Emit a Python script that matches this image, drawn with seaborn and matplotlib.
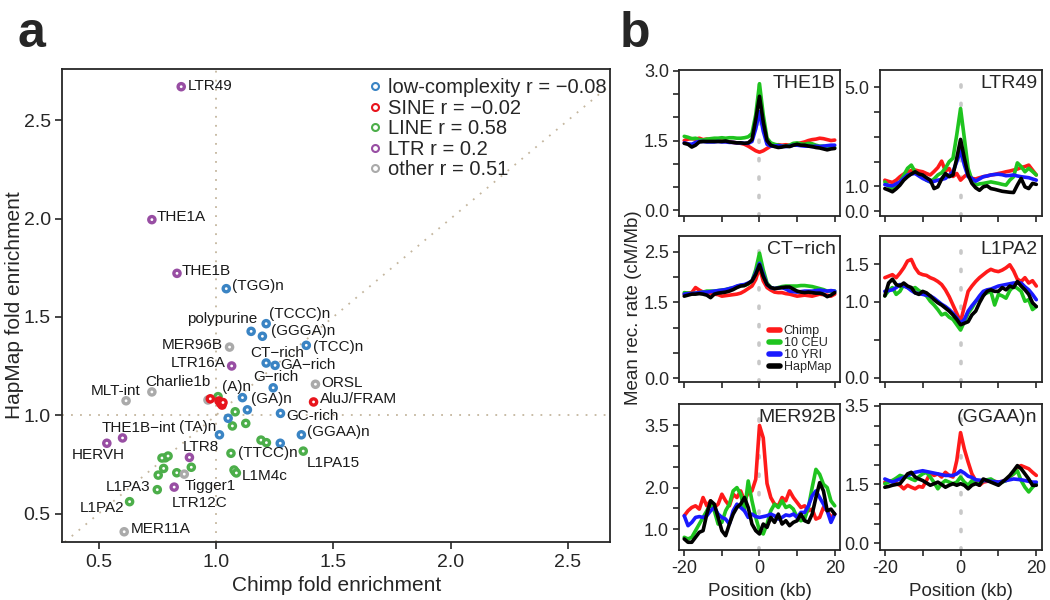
import numpy as np
import pandas as pd
import seaborn as sns
import matplotlib.pyplot as plt
from matplotlib.lines import Line2D

sns.set_style("ticks")
plt.rcParams["font.family"] = ["Liberation Sans", "DejaVu Sans"]
plt.rcParams["axes.unicode_minus"] = False

# ========== PANEL A DATA ==========
class_names = ["low-complexity", "SINE", "LINE", "LTR", "other"]
class_r = ["\u22120.08", "\u22120.02", "0.58", "0.2", "0.51"]
class_colors = ["#3a84c4", "#e8141c", "#4cae4a", "#984ea3", "#aaaaaa"]

line_x = [1.009, 1.082, 1.070, 1.127, 1.192, 1.215, 1.372, 1.064, 0.784, 0.770,
          0.796, 0.777, 0.754, 0.833, 0.895, 1.082, 1.077, 1.087, 0.750, 0.632]
line_y = [1.095, 1.018, 0.946, 0.959, 0.874, 0.861, 0.818, 0.807, 0.784, 0.783,
          0.793, 0.730, 0.696, 0.708, 0.736, 0.713, 0.722, 0.707, 0.622, 0.561]
lowc_x = [1.044, 1.214, 1.150, 1.198, 1.385, 1.214, 1.252, 1.244, 1.113, 1.134,
          1.275, 1.052, 1.015, 1.364, 1.274]
lowc_y = [1.644, 1.466, 1.427, 1.402, 1.356, 1.266, 1.254, 1.140, 1.090, 1.028,
          1.010, 0.985, 0.901, 0.901, 0.858]
ltr_x = [0.852, 0.727, 0.834, 1.067, 0.602, 0.535, 0.887, 0.822]
ltr_y = [2.671, 1.995, 1.722, 1.251, 0.885, 0.858, 0.786, 0.635]
other_x = [1.058, 1.424, 0.727, 0.617, 0.966, 0.865, 0.609]
other_y = [1.347, 1.158, 1.119, 1.074, 1.078, 0.701, 0.408]
sine_x = [0.976, 1.013, 1.020, 1.026, 1.030, 1.416]
sine_y = [1.084, 1.073, 1.061, 1.052, 1.065, 1.068]

label_text = ["LTR49", "THE1A", "THE1B", "(TGG)n", "polypurine", "(TCCC)n",
              "(GGGA)n", "MER96B", "(TCC)n", "CT\u2212rich", "LTR16A", "GA\u2212rich",
              "G\u2212rich", "ORSL", "Charlie1b", "MLT-int", "(A)n", "(GA)n",
              "AluJ/FRAM", "GC-rich", "THE1B\u2212int", "(TA)n", "(GGAA)n", "HERVH",
              "LTR8", "(TTCC)n", "L1PA15", "L1M4c", "L1PA3", "Tigger1", "LTR12C",
              "L1PA2", "MER11A"]
label_x = [0.879, 0.749, 0.852, 1.069, 1.175, 1.228, 1.233, 1.027, 1.413, 1.147,
           1.040, 1.275, 1.160, 1.449, 0.700, 0.467, 1.027, 1.150, 1.443, 1.299,
           0.514, 0.841, 1.388, 0.384, 0.860, 1.092, 1.385, 1.108, 0.529, 0.868,
           0.812, 0.419, 0.635]
label_y = [2.675, 2.007, 1.734, 1.658, 1.488, 1.514, 1.427, 1.356, 1.346, 1.318,
           1.268, 1.256, 1.196, 1.163, 1.171, 1.124, 1.145, 1.081, 1.081, 0.996,
           0.937, 0.942, 0.914, 0.798, 0.837, 0.810, 0.759, 0.691, 0.637, 0.640,
           0.555, 0.527, 0.420]
label_right = ["polypurine", "MER96B", "LTR16A"]

# ========== PANEL B DATA ==========
position_kb = np.arange(-20, 21)
sources = ["Chimp", "10 CEU", "10 YRI", "HapMap"]
source_colors = ["#ff1a1a", "#1fc41f", "#1a1aff", "#000000"]
panel_names = ["THE1B", "LTR49", "CT\u2212rich", "L1PA2", "MER92B", "(GGAA)n"]

the1b_chimp = [1.50, 1.53, 1.54, 1.53, 1.55, 1.52, 1.53, 1.51, 1.50, 1.50, 1.49, 1.48, 1.47, 1.46,
               1.45, 1.44, 1.42, 1.38, 1.33, 1.28, 1.25, 1.28, 1.33, 1.38, 1.40, 1.41, 1.40, 1.41,
               1.40, 1.42, 1.43, 1.45, 1.47, 1.50, 1.52, 1.53, 1.55, 1.54, 1.52, 1.50, 1.51]
the1b_ceu = [1.59, 1.57, 1.54, 1.55, 1.52, 1.51, 1.53, 1.54, 1.55, 1.55, 1.56, 1.55, 1.56, 1.56,
             1.55, 1.55, 1.56, 1.58, 1.65, 2.05, 2.72, 2.05, 1.55, 1.45, 1.42, 1.40, 1.38, 1.38,
             1.40, 1.44, 1.45, 1.43, 1.42, 1.44, 1.43, 1.40, 1.38, 1.38, 1.36, 1.36, 1.35]
the1b_yri = [1.45, 1.43, 1.42, 1.46, 1.48, 1.48, 1.47, 1.47, 1.47, 1.48, 1.47, 1.47, 1.46, 1.46,
             1.45, 1.45, 1.44, 1.44, 1.48, 1.75, 2.12, 1.70, 1.42, 1.38, 1.38, 1.39, 1.38, 1.37,
             1.38, 1.40, 1.40, 1.39, 1.38, 1.38, 1.37, 1.38, 1.37, 1.38, 1.39, 1.40, 1.40]
the1b_hapmap = [1.44, 1.42, 1.36, 1.40, 1.47, 1.48, 1.48, 1.48, 1.48, 1.48, 1.48, 1.49, 1.47, 1.46,
                1.45, 1.45, 1.44, 1.45, 1.52, 1.95, 2.45, 1.90, 1.50, 1.40, 1.37, 1.35, 1.36, 1.38,
                1.37, 1.40, 1.42, 1.40, 1.40, 1.38, 1.37, 1.35, 1.34, 1.32, 1.30, 1.32, 1.33]

ltr49_chimp = [1.25, 1.20, 1.16, 1.25, 1.39, 1.50, 1.59, 1.64, 1.66, 1.62, 1.59, 1.52, 1.46, 1.60,
               1.76, 2.02, 1.62, 1.72, 1.40, 1.52, 1.25, 1.40, 1.52, 1.32, 1.30, 1.35, 1.39, 1.42,
               1.46, 1.48, 1.52, 1.55, 1.59, 1.62, 1.66, 1.70, 1.76, 1.80, 1.86, 1.66, 1.46]
ltr49_ceu = [1.18, 1.00, 0.91, 1.00, 1.18, 1.45, 1.73, 1.86, 1.59, 1.45, 1.39, 1.25, 1.18, 1.30,
             1.46, 1.55, 1.73, 2.00, 2.14, 3.09, 4.15, 2.95, 1.73, 1.25, 1.05, 1.10, 1.12, 1.15,
             1.18, 1.15, 1.12, 1.08, 1.05, 1.25, 1.39, 1.95, 1.80, 1.59, 1.73, 1.60, 1.46]
ltr49_yri = [1.07, 1.04, 1.02, 1.10, 1.18, 1.32, 1.46, 1.50, 1.52, 1.42, 1.32, 1.25, 1.18, 1.20,
             1.25, 1.28, 1.32, 1.45, 1.59, 2.00, 2.44, 1.86, 1.39, 1.32, 1.21, 1.30, 1.39, 1.42,
             1.46, 1.48, 1.49, 1.47, 1.43, 1.44, 1.46, 1.42, 1.39, 1.37, 1.35, 1.30, 1.25]
ltr49_hapmap = [0.91, 0.85, 0.78, 0.90, 1.05, 1.25, 1.39, 1.50, 1.59, 1.50, 1.46, 1.35, 1.25, 0.91,
                0.98, 1.30, 1.52, 1.39, 1.46, 2.14, 2.90, 2.14, 1.46, 1.12, 0.94, 0.84, 0.98, 1.02,
                0.91, 0.88, 0.84, 0.80, 0.78, 0.76, 0.75, 1.05, 1.32, 0.98, 0.91, 1.12, 1.08]

ctrich_chimp = [1.66, 1.68, 1.69, 1.79, 1.74, 1.70, 1.69, 1.68, 1.66, 1.65, 1.62, 1.63, 1.64, 1.65,
                1.66, 1.68, 1.72, 1.77, 1.82, 1.95, 2.18, 1.92, 1.79, 1.74, 1.70, 1.69, 1.69, 1.67,
                1.66, 1.64, 1.62, 1.63, 1.64, 1.63, 1.62, 1.64, 1.66, 1.65, 1.64, 1.62, 1.66]
ctrich_ceu = [1.69, 1.68, 1.67, 1.68, 1.69, 1.70, 1.72, 1.72, 1.72, 1.73, 1.74, 1.75, 1.77, 1.78,
              1.81, 1.83, 1.83, 1.86, 1.92, 2.14, 2.47, 2.14, 1.88, 1.79, 1.77, 1.79, 1.81, 1.82,
              1.82, 1.82, 1.82, 1.83, 1.83, 1.82, 1.81, 1.79, 1.77, 1.75, 1.72, 1.72, 1.72]
ctrich_yri = [1.66, 1.67, 1.67, 1.68, 1.69, 1.70, 1.70, 1.71, 1.72, 1.73, 1.74, 1.75, 1.77, 1.79,
              1.82, 1.84, 1.85, 1.88, 1.92, 2.08, 2.27, 2.05, 1.85, 1.79, 1.77, 1.78, 1.79, 1.76,
              1.72, 1.71, 1.70, 1.71, 1.72, 1.72, 1.72, 1.73, 1.74, 1.73, 1.72, 1.73, 1.72]
ctrich_hapmap = [1.62, 1.64, 1.66, 1.66, 1.67, 1.66, 1.64, 1.59, 1.66, 1.68, 1.69, 1.70, 1.72, 1.75,
                 1.79, 1.82, 1.83, 1.87, 1.92, 2.05, 2.24, 2.01, 1.85, 1.79, 1.77, 1.78, 1.79, 1.80,
                 1.80, 1.76, 1.72, 1.70, 1.69, 1.70, 1.69, 1.68, 1.68, 1.66, 1.61, 1.64, 1.69]

l1pa2_chimp = [1.32, 1.34, 1.36, 1.32, 1.38, 1.45, 1.54, 1.56, 1.45, 1.38, 1.36, 1.35, 1.32, 1.30,
               1.27, 1.23, 1.16, 1.07, 0.96, 0.85, 0.74, 0.94, 1.14, 1.21, 1.27, 1.32, 1.36, 1.40,
               1.43, 1.41, 1.40, 1.42, 1.45, 1.49, 1.41, 1.30, 1.27, 1.32, 1.25, 1.28, 1.21]
l1pa2_ceu = [1.08, 1.15, 1.19, 1.10, 1.14, 1.23, 1.19, 1.17, 1.19, 1.15, 1.12, 1.08, 1.01, 0.96,
             0.90, 0.83, 0.85, 0.80, 0.77, 0.70, 0.63, 0.74, 0.85, 0.92, 1.01, 1.05, 1.10, 1.12,
             1.14, 0.96, 1.10, 1.08, 1.05, 1.15, 1.21, 1.18, 1.14, 1.01, 1.03, 0.90, 0.94]
l1pa2_yri = [1.14, 1.15, 1.16, 1.19, 1.23, 1.21, 1.19, 1.15, 1.12, 1.11, 1.10, 1.09, 1.08, 1.05,
             1.01, 0.97, 0.94, 0.90, 0.85, 0.79, 0.72, 0.77, 0.88, 0.95, 1.01, 1.08, 1.14, 1.16,
             1.17, 1.19, 1.21, 1.22, 1.23, 1.24, 1.25, 1.25, 1.25, 1.20, 1.16, 1.10, 1.03]
l1pa2_hapmap = [1.08, 1.25, 1.30, 1.23, 1.21, 1.25, 1.21, 1.19, 1.12, 1.10, 1.14, 1.12, 1.08, 1.03,
                0.99, 0.96, 0.92, 0.88, 0.83, 0.77, 0.70, 0.72, 0.74, 0.83, 0.88, 0.99, 1.08, 1.14,
                1.16, 1.14, 1.14, 1.19, 1.16, 1.21, 1.19, 1.27, 1.21, 1.16, 1.10, 0.99, 0.94]

mer92b_chimp = [1.32, 1.44, 1.52, 1.56, 1.48, 1.76, 1.56, 1.68, 1.52, 1.60, 1.84, 1.68, 1.56, 1.84,
                1.76, 1.92, 1.68, 1.88, 1.92, 2.20, 3.50, 3.20, 2.10, 1.76, 1.60, 1.56, 1.76, 1.68,
                1.92, 1.76, 1.64, 1.52, 1.56, 1.44, 1.48, 1.24, 1.28, 1.52, 1.44, 1.28, 1.36]
mer92b_ceu = [0.80, 0.76, 0.80, 0.96, 1.12, 1.28, 1.44, 1.60, 1.44, 1.12, 1.16, 1.44, 1.60, 1.92,
              2.00, 1.84, 1.44, 2.16, 1.68, 1.28, 0.96, 0.88, 1.12, 1.44, 1.60, 1.52, 1.68, 1.52,
              1.56, 1.48, 1.28, 1.20, 1.24, 1.52, 2.00, 2.44, 2.32, 2.08, 2.00, 1.68, 1.56]
mer92b_yri = [1.32, 1.08, 1.16, 1.28, 1.30, 1.28, 1.32, 1.44, 1.52, 1.36, 1.28, 1.24, 1.12, 1.44,
              1.60, 1.52, 1.44, 1.28, 1.36, 1.30, 1.28, 1.30, 1.32, 1.36, 1.32, 1.24, 1.28, 1.34,
              1.32, 1.36, 1.28, 1.40, 1.40, 1.56, 1.80, 1.92, 1.76, 1.60, 1.44, 1.16, 1.36]
mer92b_hapmap = [0.76, 0.68, 0.68, 0.80, 0.92, 0.96, 1.36, 1.68, 1.60, 1.28, 0.96, 0.84, 1.12, 1.36,
                 1.52, 1.60, 1.76, 1.52, 1.12, 0.96, 0.88, 1.12, 1.04, 1.28, 1.16, 1.36, 1.12, 1.20,
                 1.08, 1.16, 1.20, 1.36, 1.20, 1.16, 1.36, 1.76, 2.12, 1.92, 1.44, 1.48, 1.36]

ggaa_chimp = [1.56, 1.58, 1.60, 1.52, 1.48, 1.39, 1.48, 1.43, 1.39, 1.45, 1.43, 1.60, 1.79, 1.73,
              1.77, 1.69, 1.81, 1.73, 1.69, 2.11, 2.82, 2.40, 2.07, 1.77, 1.60, 1.48, 1.56, 1.58,
              1.60, 1.58, 1.56, 1.58, 1.60, 1.70, 1.77, 1.94, 1.98, 1.94, 1.90, 1.81, 1.73]
ggaa_ceu = [1.52, 1.56, 1.60, 1.66, 1.73, 1.70, 1.69, 1.64, 1.60, 1.70, 1.77, 1.81, 1.69, 1.55,
            1.39, 1.52, 1.60, 1.56, 1.52, 1.56, 1.69, 1.56, 1.48, 1.60, 1.52, 1.52, 1.60, 1.62,
            1.64, 1.58, 1.52, 1.56, 1.60, 1.70, 1.77, 1.85, 1.60, 1.43, 1.31, 1.43, 1.52]
ggaa_yri = [1.64, 1.60, 1.56, 1.60, 1.64, 1.68, 1.73, 1.77, 1.81, 1.83, 1.85, 1.83, 1.81, 1.79,
            1.77, 1.75, 1.73, 1.73, 1.73, 1.77, 1.85, 1.79, 1.71, 1.68, 1.62, 1.61, 1.60, 1.60,
            1.58, 1.57, 1.56, 1.58, 1.60, 1.62, 1.64, 1.63, 1.62, 1.60, 1.58, 1.56, 1.56]
ggaa_hapmap = [1.43, 1.45, 1.48, 1.50, 1.52, 1.64, 1.77, 1.81, 1.69, 1.64, 1.60, 1.54, 1.48, 1.52,
               1.56, 1.50, 1.43, 1.48, 1.52, 1.48, 1.52, 1.48, 1.39, 1.48, 1.52, 1.48, 1.64, 1.60,
               1.56, 1.52, 1.48, 1.56, 1.64, 1.73, 1.85, 1.98, 1.90, 1.77, 1.64, 1.48, 1.48]

panel_series = [
    [the1b_chimp, the1b_ceu, the1b_yri, the1b_hapmap],
    [ltr49_chimp, ltr49_ceu, ltr49_yri, ltr49_hapmap],
    [ctrich_chimp, ctrich_ceu, ctrich_yri, ctrich_hapmap],
    [l1pa2_chimp, l1pa2_ceu, l1pa2_yri, l1pa2_hapmap],
    [mer92b_chimp, mer92b_ceu, mer92b_yri, mer92b_hapmap],
    [ggaa_chimp, ggaa_ceu, ggaa_yri, ggaa_hapmap],
]

# axis setup per small panel: ylim, tick range/step, labelled ticks
panel_axes = [
    ((-0.12, 3.01), (0.0, 3.0, 0.5), [0.0, 1.5, 3.0]),
    ((-0.20, 5.70), (0.0, 5.0, 1.0), [0.0, 1.0, 5.0]),
    ((-0.07, 2.81), (0.0, 2.5, 0.5), [0.0, 1.5, 2.5]),
    ((-0.05, 1.87), (0.0, 1.5, 0.5), [0.0, 1.0, 1.5]),
    ((0.50, 4.02), (1.0, 3.5, 0.5), [1.0, 2.0, 3.5]),
    ((-0.16, 3.55), (0.0, 3.5, 0.5), [0.0, 1.5, 3.5]),
]

fig = plt.figure(figsize=(10.5, 6), dpi=100)

# ========== PANEL A ==========
ax = fig.add_axes([0.0595, 0.0967, 0.5214, 0.7883])
order = ["LINE", "low-complexity", "LTR", "other", "SINE"]
xs = [line_x, lowc_x, ltr_x, other_x, sine_x]
ys = [line_y, lowc_y, ltr_y, other_y, sine_y]
df_a = pd.concat([pd.DataFrame({"chimp": x, "hapmap": y, "cls": c})
                  for c, x, y in zip(order, xs, ys)], ignore_index=True)

ref = dict(color="#c4b69e", lw=1.3, ls=(0, (1, 4)), zorder=0)
ax.axhline(1, **ref)
ax.axvline(1, **ref)
ax.axline((1, 1), slope=1, **ref)

sns.scatterplot(data=df_a, x="chimp", y="hapmap", hue="cls", hue_order=class_names,
                palette=class_colors, s=20, linewidth=2.4, legend=False, ax=ax, zorder=3)
pts = ax.collections[-1]
pts.set_edgecolors(pts.get_facecolors())
pts.set_facecolors("white")

for t, x, y in zip(label_text, label_x, label_y):
    ax.text(x, y, t, ha="right" if t in label_right else "left", va="center",
            fontsize=11, color="#1a1a1a")

ax.set_xlim(0.346, 2.679)
ax.set_ylim(0.356, 2.761)
ax.set_xticks([0.5, 1.0, 1.5, 2.0, 2.5])
ax.set_yticks([0.5, 1.0, 1.5, 2.0, 2.5])
ax.tick_params(labelsize=14, length=5, width=1.2)
ax.set_xlabel("Chimp fold enrichment", fontsize=15)
ax.set_ylabel("HapMap fold enrichment", fontsize=15, labelpad=0)
for sp in ax.spines.values():
    sp.set_linewidth(1.3)

handles = [Line2D([], [], ls="", marker="o", ms=5, mfc="white", mec=c, mew=1.5)
           for c in class_colors]
ax.legend(handles, [f"{n} r = {r}" for n, r in zip(class_names, class_r)],
          loc="upper right", frameon=False, fontsize=14.5, handlelength=0.5,
          handletextpad=0.4, labelspacing=0.08, borderaxespad=0.0,
          bbox_to_anchor=(1.008, 0.998))

fig.text(0.017, 0.922, "a", fontsize=36, fontweight="bold")
fig.text(0.590, 0.922, "b", fontsize=36, fontweight="bold")

# ========== PANEL B ==========
col_left = [0.647, 0.838]
col_width = [0.153, 0.154]
row_bottom = [0.640, 0.3638, 0.0838]
row_height = 0.243

for i, (name, series, (ylim, tstep, tlab)) in enumerate(zip(panel_names, panel_series, panel_axes)):
    r, c = divmod(i, 2)
    axb = fig.add_axes([col_left[c], row_bottom[r], col_width[c], row_height])
    df_b = pd.concat([pd.DataFrame({"pos": position_kb, "rate": s, "src": src})
                      for src, s in zip(sources, series)], ignore_index=True)
    axb.axvline(0, color="#c8c8c8", lw=2.6, ls=(0, (0.6, 4.5)), zorder=0,
                dash_capstyle="round")
    sns.lineplot(data=df_b, x="pos", y="rate", hue="src", hue_order=sources,
                 palette=source_colors, lw=2.6, legend=False, ax=axb)
    axb.set_xlim(-21.3, 21.4)
    axb.set_ylim(*ylim)
    ticks = np.arange(tstep[0], tstep[1] + 0.01, tstep[2])
    axb.set_yticks(ticks)
    axb.set_yticklabels([f"{t:.1f}" if any(abs(t - l) < 1e-6 for l in tlab) else ""
                         for t in ticks])
    axb.set_xticks([-20, -10, 0, 10, 20])
    if r == 2:
        axb.set_xticklabels(["-20", "", "0", "", "20"])
        axb.set_xlabel("Position (kb)", fontsize=13.5)
    else:
        axb.set_xticklabels([])
        axb.set_xlabel("")
    axb.set_ylabel("")
    axb.tick_params(labelsize=13, length=4, width=1.2)
    for sp in axb.spines.values():
        sp.set_linewidth(1.3)
    axb.text(0.975, 0.965, name, transform=axb.transAxes, ha="right", va="top",
             fontsize=14)
    if name == "CT\u2212rich":
        lh = [Line2D([], [], color=col, lw=4) for col in source_colors]
        axb.legend(lh, sources, loc="lower right", frameon=False, fontsize=9,
                   handlelength=0.9, handletextpad=0.3, labelspacing=0.0,
                   borderaxespad=0.3)

fig.text(0.603, 0.487, "Mean rec. rate (cM/Mb)", rotation=90, ha="center",
         va="center", fontsize=13.5)

fig.savefig("out.png", dpi=100)
